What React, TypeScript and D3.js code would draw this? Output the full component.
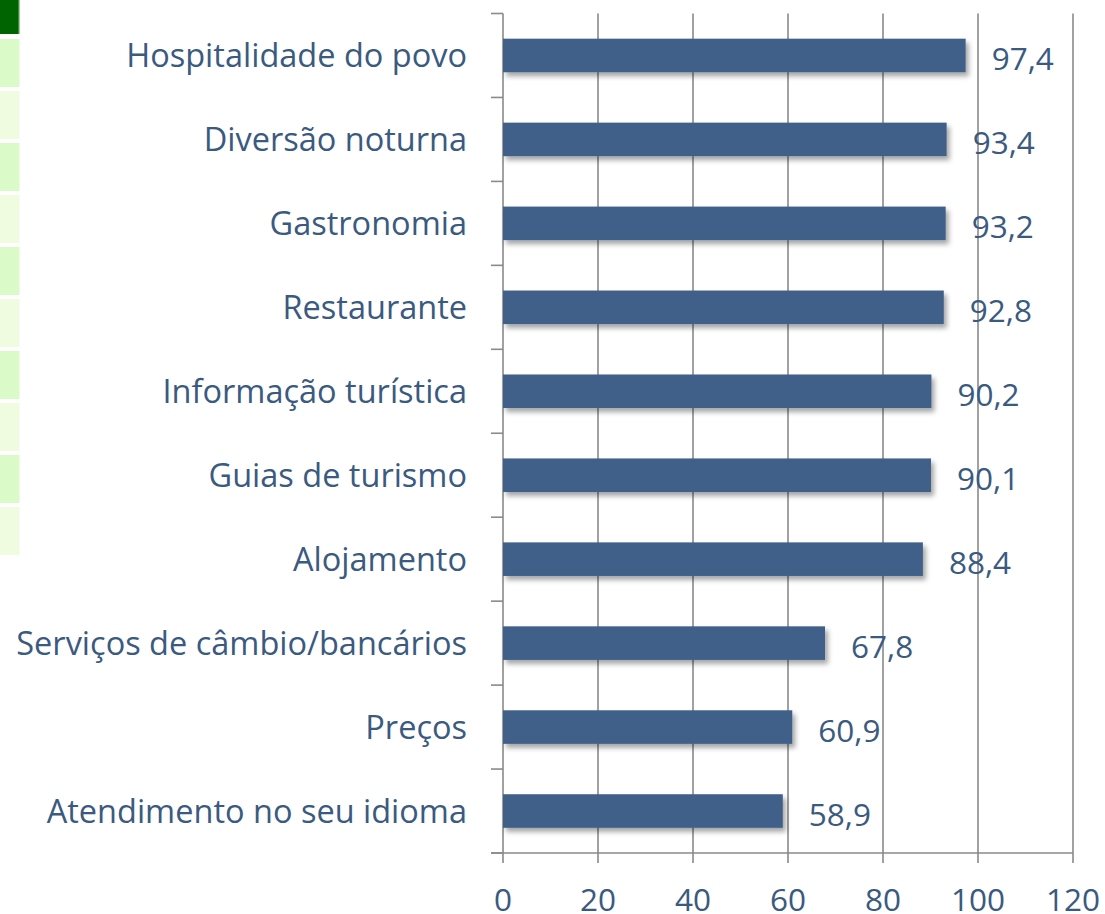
import React from "react";
import * as d3 from "d3";

const categories = [
  "Hospitalidade do povo",
  "Diversão noturna",
  "Gastronomia",
  "Restaurante",
  "Informação turística",
  "Guias de turismo",
  "Alojamento",
  "Serviços de câmbio/bancários",
  "Preços",
  "Atendimento no seu idioma",
];
const values = [97.4, 93.4, 93.2, 92.8, 90.2, 90.1, 88.4, 67.8, 60.9, 58.9];
const xTicks = [0, 20, 40, 60, 80, 100, 120];
const sideCells = [0, 1, 2, 3, 4, 5, 6, 7, 8, 9];

const W = 1105;
const H = 914;
const FONT = "'Open Sans', sans-serif";
const TEXT = "#3A5A80";
const BAR = "#3F618A";
const GRID = "#8A8A8A";

export default function App() {
  const x = d3.scaleLinear().domain([0, 120]).range([503, 1073]);
  const y = d3
    .scaleBand<string>()
    .domain(categories)
    .range([13.5, 853])
    .paddingInner(0.6)
    .paddingOuter(0.3);
  const step = y.step();
  const top = y.range()[0];
  const bottom = y.range()[1];
  const bandEdges = d3.range(categories.length + 1).map((i) => top + i * step);
  const fmt = (v: number) => v.toFixed(1).replace(".", ",");

  return (
    <svg
      width={W}
      height={H}
      style={{ position: "absolute", left: 0, top: 0, background: "#fff" }}
      fontFamily={FONT}
    >
      <defs>
        <filter id="shadow" x="-5%" y="-30%" width="115%" height="180%">
          <feDropShadow dx="3" dy="4" stdDeviation="2.5" floodColor="#000" floodOpacity="0.35" />
        </filter>
      </defs>

      {/* side table fragment */}
      <rect x={0} y={0} width={19} height={34} fill="#006400" />
      <rect x={18} y={0} width={1.5} height={34} fill="#3d8f3d" />
      {sideCells.map((i) => (
        <rect
          key={i}
          x={0}
          y={39 + i * 52}
          width={19.5}
          height={48}
          fill={i % 2 === 0 ? "#DAFBC8" : "#F0FCE0"}
        />
      ))}

      {/* gridlines */}
      {xTicks.map((t) => (
        <line
          key={"g" + t}
          x1={x(t)}
          x2={x(t)}
          y1={top}
          y2={bottom + 10}
          stroke={GRID}
          strokeWidth={1.6}
        />
      ))}
      {/* bottom axis */}
      <line x1={491} x2={x(120)} y1={bottom} y2={bottom} stroke={GRID} strokeWidth={1.6} />
      {/* y ticks */}
      {bandEdges.map((e, i) => (
        <line key={"t" + i} x1={491} x2={x(0)} y1={e} y2={e} stroke={GRID} strokeWidth={1.6} />
      ))}

      {/* bars */}
      {categories.map((c, i) => (
        <rect
          key={c}
          x={x(0)}
          y={y(c)!}
          width={x(values[i]) - x(0)}
          height={y.bandwidth()}
          fill={BAR}
          filter="url(#shadow)"
        />
      ))}

      {/* category labels */}
      {categories.map((c) => (
        <text
          key={"l" + c}
          x={467}
          y={y(c)! + y.bandwidth() / 2 + 12}
          textAnchor="end"
          fontSize={32.5}
          fill={TEXT}
        >
          {c}
        </text>
      ))}

      {/* value labels */}
      {categories.map((c, i) => (
        <text
          key={"v" + c}
          x={x(values[i]) + 26}
          y={y(c)! + y.bandwidth() / 2 + 14.5}
          fontSize={31.5}
          fill={TEXT}
        >
          {fmt(values[i])}
        </text>
      ))}

      {/* x tick labels */}
      {xTicks.map((t) => (
        <text
          key={"x" + t}
          x={x(t)}
          y={911}
          textAnchor="middle"
          fontSize={31.5}
          fill={TEXT}
        >
          {t}
        </text>
      ))}
    </svg>
  );
}
